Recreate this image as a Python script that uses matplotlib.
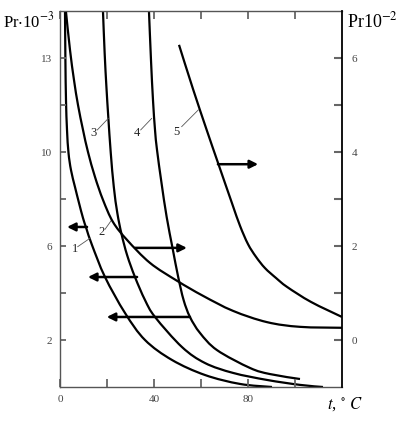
import matplotlib
matplotlib.use("Agg")
import matplotlib.pyplot as plt
from matplotlib.path import Path
from matplotlib.patches import PathPatch
import numpy as np

plt.rcParams['font.family'] = ['Liberation Serif', 'DejaVu Serif']
plt.rcParams['mathtext.fontset'] = 'stix'

# curve data (t in deg C)
# curves 1, 3, 4 use the left axis (Pr*10^-3), curves 2 and 5 the right one (Pr*10^-2)
t1 = [2.13, 2.3, 2.55, 2.98, 3.62, 4.68, 6.38, 8.09, 9.79, 11.3, 13.62, 19.15, 27.66, 36.17, 47.66, 61.70, 76.60, 90.21]
p1 = [15.96, 13.91, 12.21, 10.94, 9.96, 9.23, 8.51, 7.83, 7.19, 6.72, 6.04, 4.68, 3.15, 2.00, 1.15, 0.51, 0.13, 0.0]

t2 = [2.55, 4.26, 5.96, 7.66, 9.79, 11.91, 14.89, 18.30, 22.55, 28.51, 38.30, 49.79, 60.85, 73.62, 88.09, 102.13, 120.0]
p2 = [6.98, 6.17, 5.53, 5.00, 4.47, 4.00, 3.47, 2.98, 2.51, 2.13, 1.64, 1.26, 0.94, 0.62, 0.38, 0.28, 0.26]

t3 = [18.30, 19.0, 19.75, 20.55, 21.6, 22.9, 24.4, 26.2, 28.6, 31.9, 36.17, 40.43, 51.91, 61.70, 73.62, 88.09, 102.13, 111.91]
p3 = [15.96, 14.21, 12.77, 11.49, 9.96, 8.51, 7.40, 6.50, 5.60, 4.68, 3.70, 2.98, 1.70, 1.02, 0.60, 0.30, 0.09, 0.0]

t4 = [37.87, 38.72, 39.57, 40.43, 41.28, 43.2, 45.4, 47.9, 50.3, 52.6, 55.3, 59.57, 66.81, 80.85, 89.36, 102.13]
p4 = [15.96, 13.91, 12.21, 10.94, 10.09, 8.68, 7.23, 5.91, 4.68, 3.70, 2.98, 2.30, 1.57, 0.81, 0.55, 0.34]

t5 = [50.64, 56.60, 62.55, 67.23, 73.19, 76.60, 80.00, 83.40, 87.23, 91.91, 96.60, 106.81, 120.0]
p5 = [6.28, 5.34, 4.45, 3.77, 2.91, 2.43, 2.04, 1.77, 1.53, 1.32, 1.13, 0.81, 0.49]

# arrows: (start t, end t, level) -- on the axis of the curve they belong to
arrows_left = [(11.5, 3.0, 6.81), (32.8, 11.9, 4.68), (55.3, 19.9, 2.98)]
arrows_right = [(31.9, 54.0, 1.96), (67.2, 84.3, 3.74)]

# curve labels: text pos and leader line (left axis units)
labels = ['1', '2', '3', '4', '5']
label_pos = [(6.38, 5.87), (17.74, 6.61), (14.17, 10.80), (32.9, 10.80), (49.36, 10.86)]
leader_from = [(7.53, 5.97), (19.15, 6.71), (15.87, 10.94), (34.34, 10.94), (51.79, 11.08)]
leader_to = [(12.77, 6.33), (22.0, 7.11), (20.55, 11.43), (39.02, 11.43), (58.85, 11.79)]

x_ticks = [0, 20, 40, 60, 80, 100]
x_ticklabels = ['0', '', '40', '', '80', '']
yl_ticks = [2, 4, 6, 8, 10, 12, 14]
yl_ticklabels = ['2', '', '6', '', '10', '', '13']
yr_ticks = [0, 1, 2, 3, 4, 5, 6]
yr_ticklabels = ['0', '', '2', '', '4', '', '6']


def smooth_curve(ax, xs, ys, lw=1.6):
    # smooth path through the points (Catmull-Rom as cubic bezier), drawn in data coords
    pts = np.column_stack([xs, ys]).astype(float)
    # work in display space so the tangents are not skewed by axis scales
    d = ax.transData.transform(pts)
    verts = [d[0]]
    codes = [Path.MOVETO]
    n = len(d)
    for i in range(n - 1):
        p0 = d[i - 1] if i > 0 else d[i]
        p1 = d[i]
        p2 = d[i + 1]
        p3 = d[i + 2] if i + 2 < n else d[i + 1]
        c1 = p1 + (p2 - p0) / 6.0
        c2 = p2 - (p3 - p1) / 6.0
        verts += [c1, c2, p2]
        codes += [Path.CURVE4] * 3
    verts = ax.transData.inverted().transform(np.array(verts))
    patch = PathPatch(Path(verts, codes), facecolor='none', edgecolor='black',
                      lw=lw, transform=ax.transData)
    ax.add_patch(patch)


fig = plt.figure(figsize=(4.03, 4.23), dpi=100)
ax = fig.add_axes([60 / 403, 36 / 423, 282 / 403, 376 / 423])
ax2 = ax.twinx()
ax2.set_position([60 / 403, 36 / 423, 282 / 403, 376 / 423])

ax.set_xlim(0, 120)
ax.set_ylim(0, 16)
ax2.set_ylim(-1, 7)

smooth_curve(ax, t1, p1)
smooth_curve(ax, t3, p3)
smooth_curve(ax, t4, p4)
smooth_curve(ax2, t2, p2)
smooth_curve(ax2, t5, p5)

arrow_style = dict(arrowstyle='-|>', lw=1.8, color='black', mutation_scale=12,
                   shrinkA=0, shrinkB=0)
for a, b, y in arrows_left:
    ax.annotate('', xy=(b, y), xytext=(a, y), arrowprops=arrow_style)
for a, b, y in arrows_right:
    ax2.annotate('', xy=(b, y), xytext=(a, y), arrowprops=arrow_style)

for lab, pos, q0, q1 in zip(labels, label_pos, leader_from, leader_to):
    ax.text(pos[0], pos[1], lab, fontsize=9, color='#222222', ha='center', va='center')
    ax.plot([q0[0], q1[0]], [q0[1], q1[1]], color='#555555', lw=0.6)

# ticks
ax.set_xticks(x_ticks)
ax.set_xticklabels(x_ticklabels)
ax.set_yticks(yl_ticks)
ax.set_yticklabels(yl_ticklabels)
ax2.set_yticks(yr_ticks)
ax2.set_yticklabels(yr_ticklabels)

ax.tick_params(axis='x', direction='in', length=6, width=1.3, color='#666666',
               top=True, labelsize=8, labelcolor='#444444', pad=6)
ax.tick_params(axis='y', direction='in', length=4, width=1.3, color='#666666',
               labelsize=8, labelcolor='#444444', pad=6)
ax2.tick_params(axis='y', direction='in', length=6, width=1.5, color='#666666',
                labelsize=8, labelcolor='#444444', pad=7)

# spines: dotted on three sides, solid on the right
for side in ['left', 'top', 'bottom']:
    ax.spines[side].set_linestyle((0, (1, 1)))
    ax.spines[side].set_color('#555555')
    ax.spines[side].set_linewidth(1.0)
    ax2.spines[side].set_visible(False)
ax.spines['right'].set_visible(False)
ax2.spines['right'].set_color('black')
ax2.spines['right'].set_linewidth(1.3)

fig.text(3 / 403, 1 - 27 / 423, r'Pr$\cdot$10$^{-3}$', fontsize=12, ha='left', va='baseline')
fig.text(347 / 403, 1 - 27 / 423, r'Pr10$^{-2}$', fontsize=13, ha='left', va='baseline')
fig.text(327 / 403, 1 - 409 / 423, r'$t$, $^{\circ}$ $C$', fontsize=12, ha='left', va='baseline')

plt.savefig('out.png', dpi=100)
